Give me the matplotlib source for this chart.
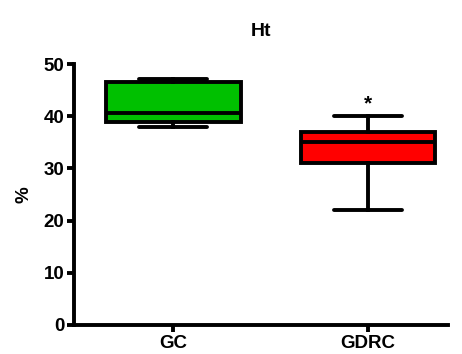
import matplotlib
matplotlib.use("Agg")
import matplotlib.pyplot as plt

plt.rcParams['font.family'] = ['Liberation Sans', 'DejaVu Sans']
plt.rcParams['font.weight'] = 'bold'

groups = ["GC", "GDRC"]
whisker_low = [38.0, 22.0]
q1 = [38.9, 31.0]
medians = [40.6, 35.0]
q3 = [46.5, 37.0]
whisker_high = [47.1, 40.0]
colors = ["#00C000", "#FF0000"]
y_ticks = [0, 10, 20, 30, 40, 50]

stats = []
for i, g in enumerate(groups):
    stats.append(dict(label=g, whislo=whisker_low[i], q1=q1[i], med=medians[i],
                      q3=q3[i], whishi=whisker_high[i], fliers=[]))

fig = plt.figure(figsize=(4.62, 3.54), dpi=100)
ax = fig.add_axes([0.160, 0.082, 0.810, 0.737])

lw = 2.8
bp = ax.bxp(stats, positions=[1, 2], widths=0.69, patch_artist=True,
            showfliers=False,
            boxprops=dict(linewidth=lw, edgecolor="black"),
            medianprops=dict(linewidth=lw, color="black", solid_capstyle="butt"),
            whiskerprops=dict(linewidth=lw, color="black"),
            capprops=dict(linewidth=lw, color="black", solid_capstyle="round"),
            capwidths=0.35)
for patch, c in zip(bp["boxes"], colors):
    patch.set_facecolor(c)

# significance marker
ax.text(2, 42.3, "*", ha="center", va="center",
        fontsize=15, fontweight="bold")

ax.set_xlim(0.49, 2.41)
ax.set_ylim(0, 50)
ax.set_yticks(y_ticks)
ax.set_xticks([1, 2])
ax.set_xticklabels(groups)

for side in ["top", "right"]:
    ax.spines[side].set_visible(False)
for side in ["left", "bottom"]:
    ax.spines[side].set_linewidth(2.8)
ax.tick_params(width=2.8, length=5, labelsize=13.5, direction="out", pad=2)
ax.set_ylabel("%", fontsize=13.5, fontweight="bold", labelpad=8)
ax.set_title("Ht", fontsize=14, fontweight="bold", pad=20)

plt.savefig("out.png", dpi=100)
